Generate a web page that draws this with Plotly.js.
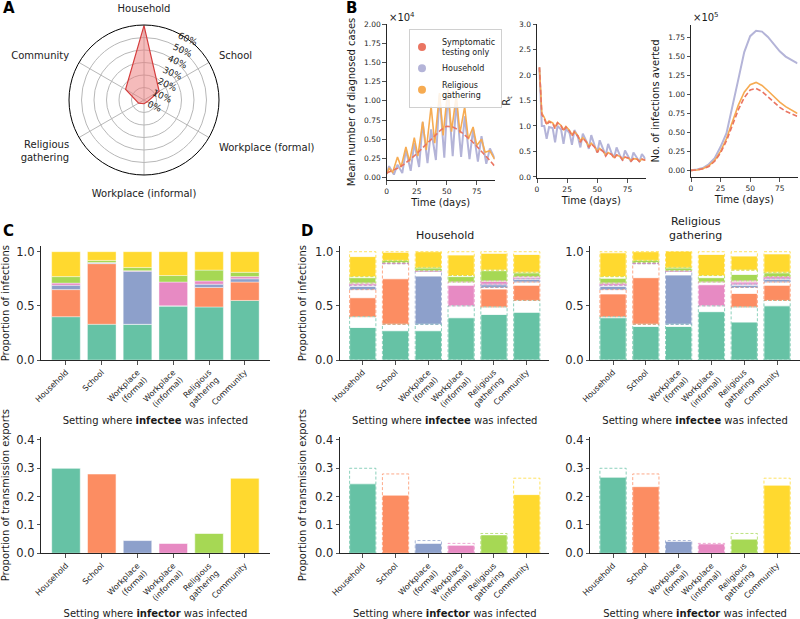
<!DOCTYPE html>
<html><head><meta charset="utf-8">
<script src="https://cdn.plot.ly/plotly-3.0.1.min.js"></script>
<style>html,body{margin:0;padding:0;background:#fff}#chart{width:800px;height:619px}</style>
</head><body><div id="chart"></div>
<script>
// ---------------- data ----------------
const settings = ['Household','School','Workplace (formal)','Workplace (informal)','Religious gathering','Community'];
const settingTicks = ['Household','School','Workplace<br>(formal)','Workplace<br>(informal)','Religious<br>gathering','Community'];

// Panel A
const radarLabels = ['Household','School','Workplace (formal)','Workplace (informal)','Religious<br>gathering','Community'];
const radarShare = [0.595,0.14,0.03,0.03,0.05,0.17];
const radarTicks = [0,0.1,0.2,0.3,0.4,0.5,0.6];
const radarTickText = ['0%','10%','20%','30%','40%','50%','60%'];

// Panel B
const seriesNames = ['Symptomatic testing only','Household','Religious gathering'];
const legendNames = ['Symptomatic<br>testing only','Household','Religious<br>gathering'];
const symDays = [0,5,10,15,20,25,30,35,40,45,50,55,60,65,70,75,80,85,90];
const symCases = [0.06,0.09,0.13,0.18,0.24,0.31,0.39,0.47,0.55,0.62,0.67,0.66,0.62,0.56,0.49,0.41,0.33,0.24,0.15];
const hhDays = [0,2,6,9,13,16,20,23,27,30,34,37,41,44,48,51,55,58,62,65,69,72,76,79,83,86,90];
const hhCases = [0.05,0.15,0.04,0.17,0.06,0.36,0.09,0.45,0.14,0.72,0.19,0.63,0.23,1.08,0.26,1.12,0.28,0.99,0.27,0.80,0.24,0.63,0.21,0.54,0.18,0.38,0.25];
const relDays = [0,2,5,9,12,16,19,23,26,30,33,37,40,44,47,51,54,58,61,65,68,72,75,79,82,86,90];
const relCases = [0.05,0.12,0.07,0.27,0.14,0.40,0.21,0.52,0.28,0.73,0.36,0.93,0.45,1.10,0.55,1.16,0.60,1.07,0.58,0.92,0.50,0.66,0.42,0.50,0.33,0.35,0.24];

const rtDays = [2,4,6,8,10,13,15,17,20,22,24,27,29,31,34,36,38,41,43,45,48,50,52,55,57,59,62,64,66,69,71,73,76,78,80,83,85,87,90];
const rtSym = [2.15,1.22,1.15,1.02,1.08,1.05,0.95,1.06,1.0,0.9,0.98,0.9,0.8,0.88,0.8,0.68,0.76,0.68,0.58,0.65,0.58,0.48,0.55,0.5,0.41,0.48,0.44,0.36,0.43,0.4,0.33,0.39,0.37,0.31,0.36,0.35,0.3,0.35,0.33];
const rtRel = [2.15,1.25,1.17,1.05,1.1,1.06,0.98,1.07,1.01,0.93,0.99,0.91,0.83,0.89,0.81,0.71,0.77,0.69,0.6,0.66,0.59,0.5,0.56,0.5,0.43,0.48,0.44,0.38,0.43,0.4,0.35,0.39,0.37,0.32,0.36,0.35,0.31,0.35,0.33];
const rtHH = [2.15,1.0,1.0,0.75,0.98,0.96,0.68,1.0,0.93,0.65,0.95,0.86,0.63,0.92,0.78,0.58,0.85,0.7,0.55,0.82,0.6,0.48,0.72,0.52,0.42,0.65,0.46,0.38,0.58,0.41,0.33,0.52,0.38,0.3,0.48,0.36,0.3,0.45,0.35];
const rtTicks = [0,0.5,1,1.5,2,2.5,3];
const rtTickText = ['0.0','0.5','1.0','1.5','2.0','2.5','3.0'];

const avDays = [0,5,10,15,20,25,30,35,40,45,50,55,60,65,70,75,80,85,90];
const avSym = [0,0.005,0.02,0.05,0.12,0.23,0.39,0.60,0.80,0.96,1.06,1.08,1.04,0.97,0.90,0.83,0.78,0.74,0.71];
const avHH = [0,0.01,0.03,0.08,0.16,0.31,0.49,0.83,1.20,1.56,1.77,1.84,1.83,1.76,1.66,1.57,1.50,1.45,1.41];
const avRel = [0,0.005,0.02,0.06,0.13,0.25,0.42,0.64,0.86,1.03,1.13,1.16,1.12,1.05,0.97,0.90,0.84,0.79,0.75];

// Panels C/D top: rows = setting where infector was infected (stack segment), columns = infectee setting (bar)
const infectionsBaseline = [
  [0.40,0.33,0.33,0.50,0.49,0.55],
  [0.25,0.56,0,0,0.18,0.17],
  [0.04,0.005,0.49,0,0.03,0.03],
  [0.02,0.005,0.005,0.22,0.03,0.02],
  [0.06,0.02,0.03,0.06,0.10,0.04],
  [0.23,0.08,0.145,0.22,0.17,0.19]];
const infectionsHousehold = [
  [0.30,0.27,0.27,0.39,0.42,0.44],
  [0.175,0.42,0,0,0.165,0.14],
  [0.03,0.005,0.445,0,0.025,0.025],
  [0.015,0.005,0.005,0.19,0.025,0.015],
  [0.05,0.02,0.025,0.05,0.095,0.035],
  [0.185,0.075,0.145,0.19,0.155,0.165]];
const infectionsReligious = [
  [0.39,0.31,0.31,0.446,0.35,0.50],
  [0.21,0.43,0,0,0.125,0.14],
  [0.03,0.005,0.455,0,0.02,0.025],
  [0.02,0.005,0.005,0.195,0.02,0.02],
  [0.045,0.02,0.025,0.04,0.06,0.035],
  [0.22,0.08,0.15,0.195,0.13,0.17]];

// Panels C/D bottom
const exportsBaseline = [0.30,0.28,0.045,0.035,0.07,0.265];
const exportsHousehold = [0.245,0.205,0.035,0.028,0.065,0.207];
const exportsReligious = [0.268,0.235,0.042,0.033,0.05,0.24];

// ---------------- styling ----------------
const set2 = ['#66c2a5','#fc8d62','#8da0cb','#e78ac3','#a6d854','#ffd92f'];
const set2Light = ['rgba(102,194,165,0.75)','rgba(252,141,98,0.75)','rgba(141,160,203,0.75)','rgba(231,138,195,0.75)','rgba(166,216,84,0.75)','rgba(255,217,47,0.75)'];
const lineColors = ['#ea7562','#b4b4d8','#f6ab52'];
const W = 800, H = 619;
const X = p => p / W;
const Y = p => 1 - p / H;
const idx = settings.map((s, i) => i);
const halfW = 0.4;

const traces = [];

// Panel A
traces.push({
  type: 'scatterpolar', r: radarShare.concat([radarShare[0]]), theta: radarLabels.concat([radarLabels[0]]),
  fill: 'toself', fillcolor: 'rgba(235,120,120,0.5)', line: {color: '#d43d3d', width: 1.2},
  mode: 'lines', showlegend: false, subplot: 'polar', hoverinfo: 'skip'
});

// Panel B
function lineTrace(x, y, i, xa, ya) {
  return {type: 'scatter', mode: 'lines', x: x, y: y, xaxis: xa, yaxis: ya, showlegend: false,
    name: seriesNames[i],
    line: {color: lineColors[i], width: i === 1 ? 2 : 1.6, dash: i === 0 ? '5px,2.5px' : 'solid'}};
}
traces.push(lineTrace(hhDays, hhCases, 1, 'x', 'y'));
traces.push(lineTrace(relDays, relCases, 2, 'x', 'y'));
traces.push(lineTrace(symDays, symCases, 0, 'x', 'y'));
traces.push(lineTrace(rtDays, rtHH, 1, 'x2', 'y2'));
traces.push(lineTrace(rtDays, rtRel, 2, 'x2', 'y2'));
traces.push(lineTrace(rtDays, rtSym, 0, 'x2', 'y2'));
traces.push(lineTrace(avDays, avHH, 1, 'x3', 'y3'));
traces.push(lineTrace(avDays, avRel, 2, 'x3', 'y3'));
traces.push(lineTrace(avDays, avSym, 0, 'x3', 'y3'));
legendNames.forEach((n, i) => traces.push({type: 'scatter', mode: 'markers', x: [null], y: [null],
  xaxis: 'x', yaxis: 'y', name: n, marker: {color: lineColors[i], size: 8, symbol: 'circle'}, showlegend: true}));

// rectangle outline helper
function outline(xs, bases, heights) {
  const ox = [], oy = [];
  xs.forEach((x, i) => {
    if (heights[i] <= 0) return;
    const b = bases[i], t = bases[i] + heights[i];
    ox.push(x - halfW, x + halfW, x + halfW, x - halfW, x - halfW, null);
    oy.push(b, b, t, t, b, null);
  });
  return {ox, oy};
}

// stacked panels
function stacked(baseline, values, xa, ya, dashed) {
  const cum = idx.map(() => 0);
  baseline.forEach((seg, k) => {
    const starts = cum.slice();
    traces.push({type: 'bar', x: idx, y: values[k], base: starts, width: 0.8, xaxis: xa, yaxis: ya,
      name: settings[k], showlegend: false,
      marker: {color: set2[k], line: {color: 'white', width: dashed ? 0.8 : 0.4}}});
    if (dashed) {
      const o = outline(idx, starts, seg);
      traces.push({type: 'scatter', mode: 'lines', x: o.ox, y: o.oy, xaxis: xa, yaxis: ya, showlegend: false,
        hoverinfo: 'skip', line: {color: set2Light[k], width: 1, dash: '3px,2px'}});
    }
    seg.forEach((v, i) => cum[i] += v);
  });
}
stacked(infectionsBaseline, infectionsBaseline, 'x4', 'y4', false);
stacked(infectionsBaseline, infectionsHousehold, 'x5', 'y5', true);
stacked(infectionsBaseline, infectionsReligious, 'x6', 'y6', true);

// export bars
function exportsPanel(baseline, values, xa, ya, dashed) {
  traces.push({type: 'bar', x: idx, y: values, width: 0.8, xaxis: xa, yaxis: ya, showlegend: false,
    marker: {color: set2, line: {color: 'white', width: 0.6}}});
  if (dashed) {
    idx.forEach(i => {
      const o = outline([i], [0], [baseline[i]]);
      traces.push({type: 'scatter', mode: 'lines', x: o.ox, y: o.oy, xaxis: xa, yaxis: ya, showlegend: false,
        hoverinfo: 'skip', line: {color: set2Light[i], width: 1, dash: '3px,2px'}});
    });
  }
}
exportsPanel(exportsBaseline, exportsBaseline, 'x7', 'y7', false);
exportsPanel(exportsBaseline, exportsHousehold, 'x8', 'y8', true);
exportsPanel(exportsBaseline, exportsReligious, 'x9', 'y9', true);

// ---------------- layout ----------------
const axColor = '#262626';
function axis(domain, range, anchor, extra) {
  return Object.assign({domain: domain, range: range, anchor: anchor, showline: true, linecolor: axColor,
    linewidth: 1, ticks: 'outside', ticklen: 3.5, tickwidth: 0.8, tickcolor: axColor, showgrid: false,
    showticklabels: true, zeroline: false, fixedrange: true,
    tickfont: {size: 7.5, color: axColor}}, extra || {});
}
const bY = [Y(180), Y(24)];
const timeX = {tickvals: [0, 25, 50, 75], title: {text: 'Time (days)', font: {size: 10}, standoff: 4}};
const catX = {tickvals: idx, ticktext: settingTicks, tickangle: -45, tickfont: {size: 8, color: axColor}};
const topY = [Y(360), Y(246.3)];
const botY = [Y(553.3), Y(437.1)];
const xC = [X(41.3), X(269.5)];
const xD1 = [X(340.1), X(549.4)];
const xD2 = [X(590.4), X(799.7)];
const infecteeTitle = {text: 'Setting where <b>infectee</b> was infected', font: {size: 10}, standoff: 6};
const infectorTitle = {text: 'Setting where <b>infector</b> was infected', font: {size: 10}, standoff: 6};
const ytopTick = {tickvals: [0, 0.5, 1.0], tickformat: '.1f', tickfont: {size: 11.5, color: axColor}};
const ybotTick = {tickvals: [0, 0.1, 0.2, 0.3, 0.4], tickformat: '.1f', tickfont: {size: 11.5, color: axColor}};

const annotations = [
  {text: '<b>A</b>', x: X(1), y: Y(8), xref: 'paper', yref: 'paper', xanchor: 'left', yanchor: 'middle', showarrow: false, font: {size: 15, color: '#000'}},
  {text: '<b>B</b>', x: X(344), y: Y(8), xref: 'paper', yref: 'paper', xanchor: 'left', yanchor: 'middle', showarrow: false, font: {size: 15, color: '#000'}},
  {text: '<b>C</b>', x: X(1), y: Y(231), xref: 'paper', yref: 'paper', xanchor: 'left', yanchor: 'middle', showarrow: false, font: {size: 15, color: '#000'}},
  {text: '<b>D</b>', x: X(299), y: Y(231), xref: 'paper', yref: 'paper', xanchor: 'left', yanchor: 'middle', showarrow: false, font: {size: 15, color: '#000'}},
  {text: '×10<sup>4</sup>', x: X(387), y: Y(17), xref: 'paper', yref: 'paper', xanchor: 'left', yanchor: 'middle', showarrow: false, font: {size: 10}},
  {text: '×10<sup>5</sup>', x: X(691), y: Y(17), xref: 'paper', yref: 'paper', xanchor: 'left', yanchor: 'middle', showarrow: false, font: {size: 10}},
  {text: 'Household', x: (xD1[0] + xD1[1]) / 2, y: Y(236), xref: 'paper', yref: 'paper', xanchor: 'center', yanchor: 'middle', showarrow: false, font: {size: 11}},
  {text: 'Religious<br>gathering', x: (xD2[0] + xD2[1]) / 2, y: Y(229), xref: 'paper', yref: 'paper', xanchor: 'center', yanchor: 'middle', showarrow: false, font: {size: 11}}
];

const layout = {
  width: W, height: H, margin: {l: 0, r: 0, t: 0, b: 0}, paper_bgcolor: 'white', plot_bgcolor: 'white',
  font: {family: 'DejaVu Sans, sans-serif', color: '#1a1a1a', size: 10},
  barmode: 'overlay', bargap: 0.2,
  showlegend: true,
  legend: {x: X(409), y: Y(29), xanchor: 'left', yanchor: 'top', bgcolor: 'rgba(255,255,255,0.85)',
    bordercolor: '#d0d0d0', borderwidth: 1, font: {size: 8}, itemwidth: 30, tracegroupgap: 0,
    indentation: -8},
  polar: {
    domain: {x: [X(69), X(219)], y: [Y(175), Y(25)]}, bgcolor: 'white',
    angularaxis: {rotation: 90, direction: 'clockwise', linecolor: '#000', linewidth: 1, gridcolor: '#b8b8b8',
      ticks: 'outside', ticklen: 9, tickcolor: 'rgba(0,0,0,0)', tickfont: {size: 10, color: '#222'}},
    radialaxis: {range: [0, 0.6], tickvals: radarTicks, ticktext: radarTickText, angle: 66, showline: false,
      gridcolor: '#b8b8b8', ticks: '', tickfont: {size: 9, color: '#222'}}
  },
  xaxis: axis([X(386.7), X(494.7)], [0, 90], 'y', timeX),
  yaxis: axis(bY, [-0.03, 2.0], 'x', {tickvals: [0,0.25,0.5,0.75,1,1.25,1.5,1.75,2], tickformat: '.2f',
    title: {text: 'Mean number of diagnosed cases', font: {size: 10}, standoff: 6}}),
  xaxis2: axis([X(537), X(645.5)], [0, 90], 'y2', timeX),
  yaxis2: axis([Y(178), Y(24)], [-0.02, 3.0], 'x2', {tickmode: 'array', tickvals: rtTicks, ticktext: rtTickText,
    title: {text: 'R<sub>t</sub>', font: {size: 10}, standoff: 6}}),
  xaxis3: axis([X(691), X(797.5)], [0, 90], 'y3', timeX),
  yaxis3: axis([Y(177), Y(25)], [-0.088, 1.917], 'x3', {tickvals: [0,0.25,0.5,0.75,1,1.25,1.5,1.75], tickformat: '.2f',
    title: {text: 'No. of infections averted', font: {size: 10}, standoff: 6}}),
  xaxis4: axis(xC, [-0.69, 5.69], 'y4', Object.assign({title: infecteeTitle}, catX)),
  yaxis4: axis(topY, [0, 1.05], 'x4', Object.assign({title: {text: 'Proportion of infections', font: {size: 10}, standoff: 6}}, ytopTick)),
  xaxis5: axis(xD1, [-0.69, 5.69], 'y5', Object.assign({title: infecteeTitle}, catX)),
  yaxis5: axis(topY, [0, 1.05], 'x5', Object.assign({title: {text: 'Proportion of infections', font: {size: 10}, standoff: 6}}, ytopTick)),
  xaxis6: axis(xD2, [-0.69, 5.69], 'y6', Object.assign({title: infecteeTitle}, catX)),
  yaxis6: axis(topY, [0, 1.05], 'x6', ytopTick),
  xaxis7: axis(xC, [-0.69, 5.69], 'y7', Object.assign({title: infectorTitle}, catX)),
  yaxis7: axis(botY, [0, 0.41], 'x7', Object.assign({title: {text: 'Proportion of transmission exports', font: {size: 10}, standoff: 6}}, ybotTick)),
  xaxis8: axis(xD1, [-0.69, 5.69], 'y8', Object.assign({title: infectorTitle}, catX)),
  yaxis8: axis(botY, [0, 0.41], 'x8', Object.assign({title: {text: 'Proportion of transmission exports', font: {size: 10}, standoff: 6}}, ybotTick)),
  xaxis9: axis(xD2, [-0.69, 5.69], 'y9', Object.assign({title: infectorTitle}, catX)),
  yaxis9: axis(botY, [0, 0.41], 'x9', ybotTick),
  annotations: annotations
};

Plotly.newPlot('chart', traces, layout, {staticPlot: true, displayModeBar: false});
</script></body></html>
